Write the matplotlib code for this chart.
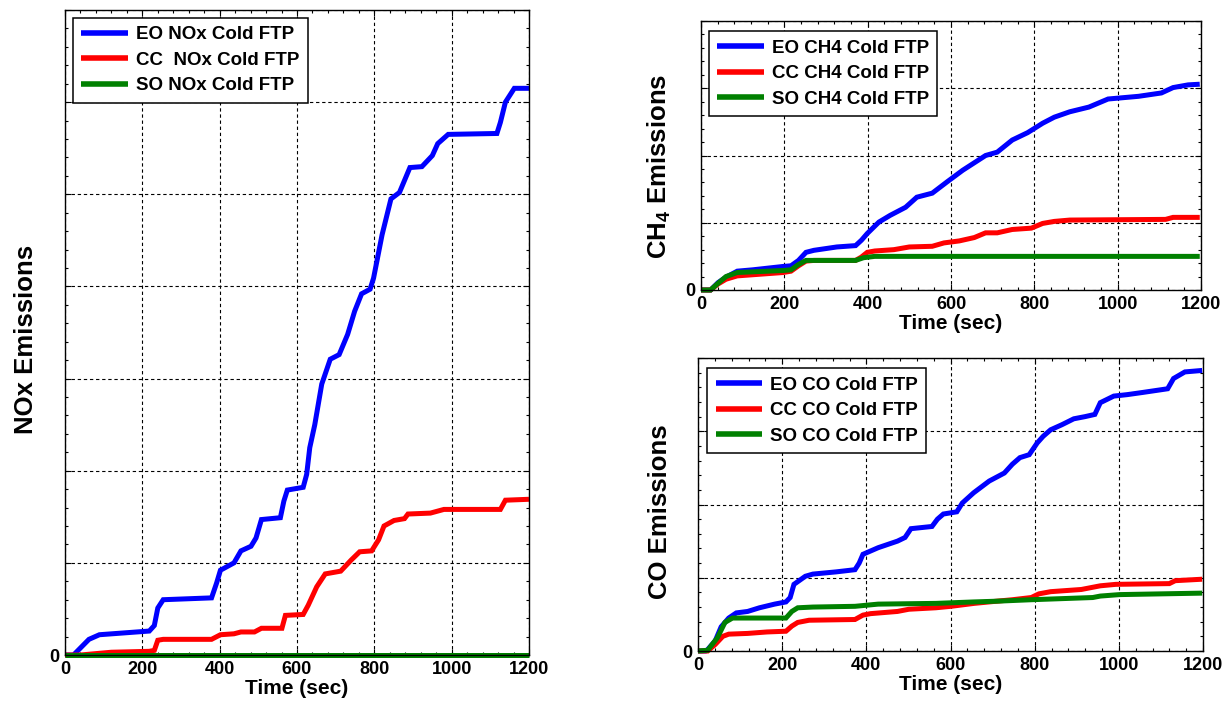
"""
Cold FTP cumulative emissions: NOx, CH4 and CO for EO / CC / SO.
"""

import numpy as np
import matplotlib
import matplotlib.pyplot as plt
from matplotlib.ticker import MultipleLocator

matplotlib.use("Agg")

plt.rcParams["font.family"] = ["Liberation Sans", "DejaVu Sans"]
plt.rcParams["font.weight"] = "bold"
plt.rcParams["mathtext.fontset"] = "custom"
plt.rcParams["mathtext.rm"] = "Liberation Sans:bold"
plt.rcParams["mathtext.bf"] = "Liberation Sans:bold"
plt.rcParams["mathtext.default"] = "bf"

# ---- NOx (left panel) ----
nox_eo_t = [0, 22, 62, 89, 218, 231, 240, 254, 379, 392, 402, 437, 455, 481, 494, 508,
            557, 566, 575, 616, 625, 633, 646, 664, 686, 709, 731, 749, 767, 789, 798,
            820, 843, 865, 892, 923, 950, 964, 991, 1117, 1126, 1139, 1162, 1200]
nox_eo_v = [0, 0, 0.17, 0.22, 0.26, 0.32, 0.51, 0.60, 0.62, 0.78, 0.92, 1.00, 1.13, 1.18,
            1.27, 1.47, 1.49, 1.67, 1.79, 1.82, 1.96, 2.25, 2.50, 2.94, 3.21, 3.26, 3.48,
            3.73, 3.92, 3.97, 4.09, 4.56, 4.95, 5.02, 5.29, 5.30, 5.42, 5.55, 5.65, 5.66,
            5.78, 6.00, 6.15, 6.15]
nox_cc_t = [0, 40, 120, 218, 231, 240, 254, 379, 402, 437, 455, 490, 508, 561, 570, 616,
            629, 651, 673, 713, 740, 762, 793, 811, 825, 851, 878, 887, 945, 980, 1126,
            1139, 1200]
nox_cc_v = [0, 0, 0.03, 0.04, 0.05, 0.16, 0.17, 0.17, 0.22, 0.23, 0.25, 0.25, 0.29, 0.29,
            0.43, 0.44, 0.54, 0.74, 0.88, 0.91, 1.03, 1.12, 1.13, 1.25, 1.40, 1.46, 1.48,
            1.53, 1.54, 1.58, 1.58, 1.68, 1.69]
nox_so_t = [0, 1200]
nox_so_v = [0, 0]

# ---- CH4 (top right) ----
ch4_eo_t = [0, 23, 41, 60, 87, 124, 197, 216, 234, 252, 271, 326, 371, 385, 399, 427, 454,
            491, 518, 555, 591, 628, 683, 711, 747, 784, 820, 848, 885, 931, 977, 1050,
            1105, 1133, 1169, 1197]
ch4_eo_v = [0, 0, 0.11, 0.19, 0.28, 0.30, 0.35, 0.36, 0.44, 0.56, 0.59, 0.64, 0.66, 0.74,
            0.84, 1.01, 1.11, 1.23, 1.38, 1.44, 1.61, 1.78, 2.00, 2.05, 2.23, 2.34, 2.48,
            2.57, 2.65, 2.72, 2.84, 2.88, 2.93, 3.01, 3.05, 3.06]
ch4_cc_t = [0, 23, 41, 60, 87, 197, 216, 234, 252, 271, 371, 385, 399, 417, 463, 500, 555,
            583, 620, 656, 683, 711, 747, 793, 820, 848, 885, 1115, 1133, 1197]
ch4_cc_v = [0, 0, 0.09, 0.16, 0.21, 0.26, 0.28, 0.36, 0.43, 0.44, 0.44, 0.49, 0.56, 0.58,
            0.60, 0.64, 0.65, 0.70, 0.73, 0.78, 0.85, 0.85, 0.90, 0.92, 0.99, 1.02, 1.04,
            1.05, 1.08, 1.08]
ch4_so_t = [0, 23, 41, 60, 87, 197, 216, 234, 252, 371, 390, 417, 1197]
ch4_so_v = [0, 0, 0.10, 0.20, 0.26, 0.29, 0.30, 0.38, 0.44, 0.44, 0.48, 0.50, 0.50]

# ---- CO (bottom right) ----
co_eo_t = [0, 18, 23, 41, 55, 73, 91, 118, 146, 182, 209, 219, 228, 255, 273, 328, 373,
           383, 392, 428, 474, 492, 506, 556, 569, 583, 615, 628, 655, 692, 728, 747, 765,
           787, 806, 820, 838, 865, 893, 920, 943, 956, 988, 1020, 1057, 1116, 1130, 1157,
           1198]
co_eo_v = [0, 0, 0.02, 0.14, 0.33, 0.45, 0.52, 0.54, 0.59, 0.64, 0.67, 0.73, 0.91, 1.02,
           1.05, 1.08, 1.11, 1.20, 1.32, 1.41, 1.50, 1.55, 1.67, 1.70, 1.80, 1.87, 1.90,
           2.02, 2.16, 2.32, 2.43, 2.55, 2.64, 2.68, 2.84, 2.93, 3.02, 3.09, 3.17, 3.20,
           3.23, 3.39, 3.48, 3.50, 3.53, 3.58, 3.72, 3.81, 3.83]
co_cc_t = [0, 23, 41, 59, 73, 118, 164, 209, 223, 237, 264, 373, 392, 410, 474, 501, 565,
           601, 656, 710, 747, 792, 810, 838, 911, 956, 993, 1120, 1134, 1198]
co_cc_v = [0, 0, 0.09, 0.20, 0.23, 0.24, 0.26, 0.27, 0.34, 0.39, 0.42, 0.43, 0.49, 0.51,
           0.54, 0.57, 0.59, 0.61, 0.65, 0.68, 0.70, 0.73, 0.78, 0.81, 0.84, 0.89, 0.91,
           0.92, 0.96, 0.98]
co_so_t = [0, 23, 46, 64, 82, 209, 223, 237, 273, 373, 428, 565, 656, 710, 792, 938, 956,
           1002, 1198]
co_so_v = [0, 0.01, 0.18, 0.39, 0.45, 0.45, 0.54, 0.59, 0.60, 0.61, 0.64, 0.65, 0.67, 0.68,
           0.70, 0.73, 0.75, 0.77, 0.79]

x_ticks = [0, 200, 400, 600, 800, 1000, 1200]
colors = ["#0000ff", "#ff0000", "#008000"]
W, H = 1228, 709


def px_axes(fig, x0, y0, x1, y1):
    """Add axes from pixel box (top-left origin)."""
    return fig.add_axes([x0 / W, (H - y1) / H, (x1 - x0) / W, (y1 - y0) / H])


def style_panel(ax, ymax, ylabel, label_x, label_y, series, labels, leg_xy):
    for (t, v), lab, c in zip(series, labels, colors):
        ax.plot(t, v, color=c, linewidth=3.6, label=lab, clip_on=False,
                solid_capstyle="butt", solid_joinstyle="miter")

    ax.set_xlim(0, 1200)
    ax.set_ylim(0, ymax)
    ax.set_xticks(x_ticks)
    ax.set_xticklabels([str(t) for t in x_ticks])
    ax.xaxis.set_minor_locator(MultipleLocator(40))
    yt = list(range(ymax + 1))
    ax.set_yticks(yt)
    ax.set_yticklabels(["0"] + [""] * ymax)
    ax.yaxis.set_minor_locator(MultipleLocator(0.2))

    ax.tick_params(which="both", direction="in", top=True, right=True,
                   labelsize=13, pad=4)
    ax.tick_params(which="major", length=4.5, width=0.8)
    ax.tick_params(which="minor", length=2.2, width=0.8)
    for lab in ax.get_xticklabels() + ax.get_yticklabels():
        lab.set_fontweight("bold")
    for sp in ax.spines.values():
        sp.set_linewidth(1.0)

    ax.grid(True, which="major", color="black", linestyle=(0, (3, 2.5)), linewidth=0.8)

    ax.set_xlabel("Time (sec)", fontsize=15, fontweight="bold", labelpad=1)
    ax.set_ylabel(ylabel, fontsize=18.5, fontweight="bold")
    ax.yaxis.set_label_coords(label_x, label_y)

    leg = ax.legend(loc="upper left", bbox_to_anchor=leg_xy, borderaxespad=0,
                    prop={"size": 13.5, "weight": "bold"}, fancybox=False,
                    framealpha=1, edgecolor="black", handlelength=2.5,
                    handletextpad=0.4, labelspacing=0.45, borderpad=0.45)
    leg.get_frame().set_linewidth(1.1)
    for h in leg.get_lines():
        h.set_linewidth(4)


fig = plt.figure(figsize=(W / 100, H / 100), dpi=100)

ax1 = px_axes(fig, 65, 10, 529, 655)
style_panel(ax1, 7, "NOx Emissions", -0.058, 0.49,
            [(nox_eo_t, nox_eo_v), (nox_cc_t, nox_cc_v), (nox_so_t, nox_so_v)],
            ["EO NOx Cold FTP", "CC  NOx Cold FTP", "SO NOx Cold FTP"],
            (0.017, 0.988))

ax2 = px_axes(fig, 701, 21, 1201, 290)
style_panel(ax2, 4, "CH$_4$ Emissions", -0.056, 0.46,
            [(ch4_eo_t, ch4_eo_v), (ch4_cc_t, ch4_cc_v), (ch4_so_t, ch4_so_v)],
            ["EO CH4 Cold FTP", "CC CH4 Cold FTP", "SO CH4 Cold FTP"],
            (0.016, 0.963))

ax3 = px_axes(fig, 698, 358, 1203, 651)
style_panel(ax3, 4, "CO Emissions", -0.052, 0.476,
            [(co_eo_t, co_eo_v), (co_cc_t, co_cc_v), (co_so_t, co_so_v)],
            ["EO CO Cold FTP", "CC CO Cold FTP", "SO CO Cold FTP"],
            (0.018, 0.966))

fig.savefig("out.png", dpi=100)
plt.close(fig)
